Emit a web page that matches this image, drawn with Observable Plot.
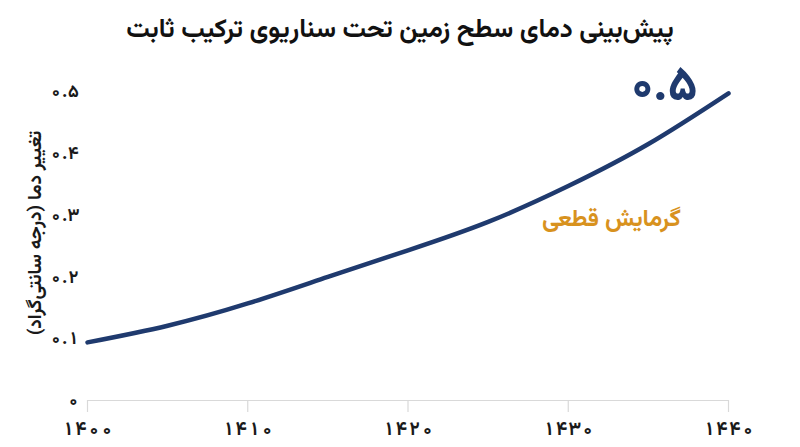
<!DOCTYPE html>
<html lang="fa">
<head>
<meta charset="utf-8">
<script src="https://cdn.jsdelivr.net/npm/d3@7"></script>
<script src="https://cdn.jsdelivr.net/npm/@observablehq/plot@0.6"></script>
<style>
  html, body { margin: 0; padding: 0; background: #fff; }
  body { width: 800px; height: 447px; overflow: hidden; font-family: "Vazirmatn", "Noto Sans Arabic", "Noto Naskh Arabic", "DejaVu Sans", sans-serif; }
  #title { height: 50px; line-height: 62px; text-align: center; font-size: 26px; font-weight: bold; color: #111; direction: rtl; overflow: visible; position: relative; z-index: 1; }
  #chart { position: relative; z-index: 0; }
</style>
</head>
<body>
<div id="title">پیش‌بینی دمای سطح زمین تحت سناریوی ترکیب ثابت</div>
<div id="chart"></div>
<script>
// Data
const years = [1400, 1405, 1410, 1415, 1420, 1425, 1430, 1435, 1440];
const tempChange = [0.094, 0.121, 0.157, 0.200, 0.243, 0.289, 0.347, 0.415, 0.497];

const xTicks = [1400, 1410, 1420, 1430, 1440];
const xTickLabels = ["۱۴۰۰", "۱۴۱۰", "۱۴۲۰", "۱۴۳۰", "۱۴۴۰"];
const yTicks = [0, 0.1, 0.2, 0.3, 0.4, 0.5];
const yTickLabels = ["۰", "۰.۱", "۰.۲", "۰.۳", "۰.۴", "۰.۵"];

const yLabel = "تغییر دما (درجه سانتی‌گراد)";
const endLabel = ["۰.۵"];
const seriesLabel = ["گرمایش قطعی"];

const data = years.map((y, i) => ({year: y, value: tempChange[i]}));
const last = data[data.length - 1];

const navy = "#1f3a6e";
const orange = "#d8921e";
const font = "Vazirmatn, 'Noto Sans Arabic', 'Noto Naskh Arabic', 'DejaVu Sans', sans-serif";

const chart = Plot.plot({
  width: 800,
  height: 397,
  marginTop: 41,
  marginBottom: 47,
  marginLeft: 87,
  marginRight: 72,
  style: {fontFamily: font, background: "transparent"},
  x: {domain: [1400, 1440]},
  y: {domain: [0, 0.5]},
  marks: [
    Plot.ruleY([0], {stroke: "#d9d9d9", strokeWidth: 1.2}),
    Plot.axisX({
      ticks: xTicks,
      tickFormat: d => xTickLabels[xTicks.indexOf(d)],
      tickSize: 12,
      stroke: "#d9d9d9",
      strokeWidth: 1.2,
      tickPadding: 9,
      fontSize: 19,
      fontWeight: "bold",
      fill: "#1a1a1a",
      label: null
    }),
    Plot.axisY({
      ticks: yTicks,
      tickFormat: d => yTickLabels[yTicks.findIndex(t => Math.abs(t - d) < 1e-9)],
      tickSize: 0,
      tickPadding: 8,
      fontSize: 18,
      fontWeight: "bold",
      fill: "#1a1a1a",
      label: yLabel,
      labelAnchor: "center",
      labelArrow: "none",
      labelOffset: 60
    }),
    Plot.line(data, {
      x: "year", y: "value",
      stroke: navy, strokeWidth: 4.5,
      curve: "natural", strokeLinecap: "round"
    }),
    Plot.text(endLabel, {
      x: () => last.year, y: () => last.value,
      text: d => d,
      dx: -64, dy: -9,
      fontSize: 49, fontWeight: "bold", fill: navy
    }),
    Plot.text(seriesLabel, {
      x: () => 1435, y: () => 0.3,
      text: d => d,
      dx: -37, dy: 3,
      fontSize: 24, fontWeight: "bold", fill: orange
    })
  ]
});

// Style and nudge the y-axis label
const lab = d3.select(chart).selectAll("[aria-label='y-axis label'] text");
lab.attr("font-size", 19).attr("font-weight", "bold").attr("fill", "#1a1a1a")
   .each(function() {
     const t = this.getAttribute("transform") || "";
     this.setAttribute("transform", "translate(0,-13) " + t);
   });

document.getElementById("chart").appendChild(chart);
</script>
</body>
</html>
